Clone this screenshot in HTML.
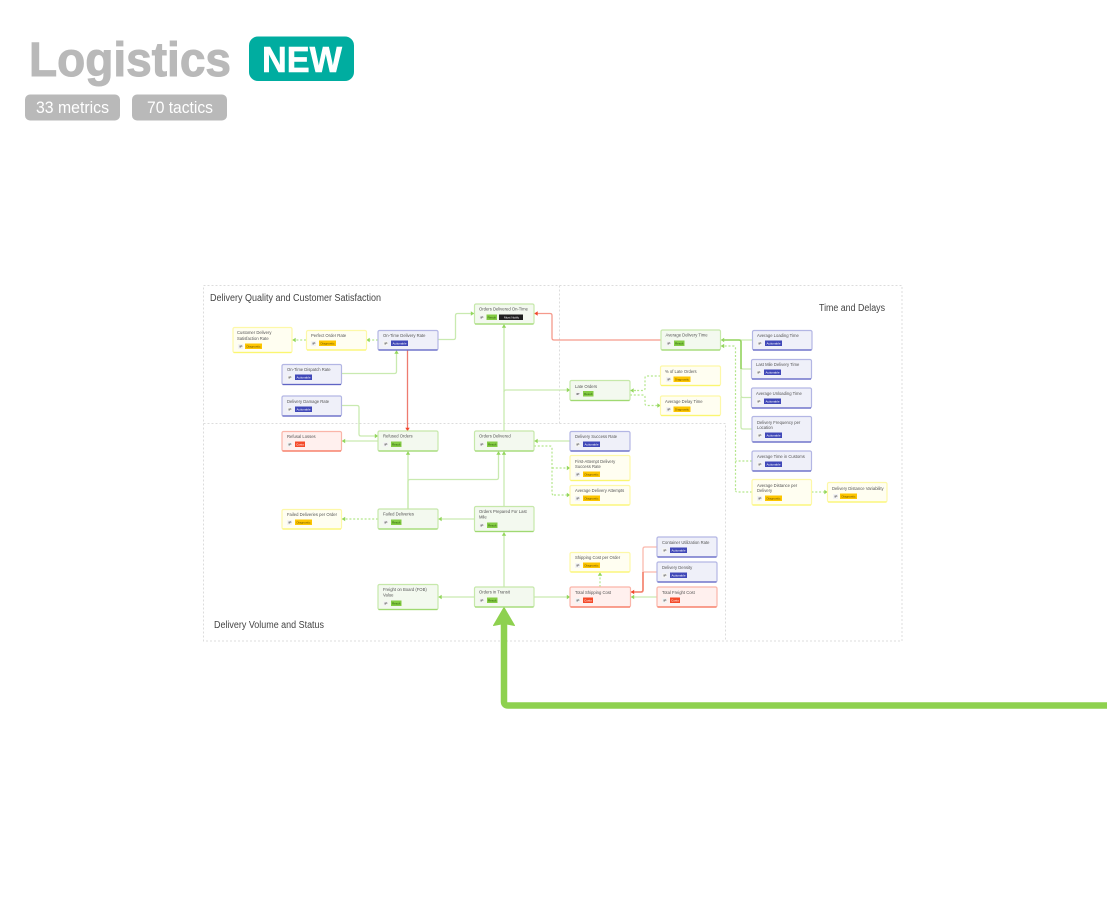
<!DOCTYPE html>
<html><head><meta charset="utf-8"><style>
html,body{margin:0;padding:0;background:#fff;width:1107px;height:902px;overflow:hidden}
svg{display:block;font-family:"Liberation Sans",sans-serif}
.z{fill:none;stroke:#dcdcdc;stroke-width:1;stroke-dasharray:2 2}
.gl{fill:none;stroke:#c9eab0;stroke-width:1.3;stroke-linejoin:round;marker-end:url(#ag)}
.gn{fill:none;stroke:#c9eab0;stroke-width:1.3;stroke-linejoin:round}
.gd{fill:none;stroke:#b4e68c;stroke-width:1.2;stroke-dasharray:2 1.8;marker-end:url(#ag)}
.gdn{fill:none;stroke:#b4e68c;stroke-width:1.2;stroke-dasharray:2 1.8}
.rl{fill:none;stroke:#f59a8c;stroke-width:1.3;stroke-linejoin:round;marker-end:url(#ar)}
.rn{fill:none;stroke:#fbb9ad;stroke-width:1.3;stroke-linejoin:round}
.n{stroke-width:1.2}
.G{fill:#f3f9ef;stroke:#c6e8aa}.B{fill:#eff0f9;stroke:#b3b6e4}.Y{fill:#fffef1;stroke:#fdf8a8}.R{fill:#fff0ee;stroke:#fab5a9}
.bG,.bB,.bY,.bR{stroke-width:1.3;fill:none}
.bG{stroke:#a0d972}.bB{stroke:#5f64c4}.bY{stroke:#fbf670}.bR{stroke:#f6745b}
.t{font-size:4.2px;fill:#555}
.i{fill:#f4f4f4}
.it{font-size:3px;fill:#444;font-weight:bold}
.fG{fill:#84cc44}.fB{fill:#4048b8}.fY{fill:#fdc500}.fR{fill:#f44a2a}.fK{fill:#1f1f1f}
.bt{font-size:3px;text-anchor:middle;fill:#fff}
.bd{font-size:3px;text-anchor:middle;fill:#665000}
.bg{font-size:3px;text-anchor:middle;fill:#2f5c0c}
.h{font-size:10px;fill:#444}
</style></head><body>
<svg width="1107" height="902" viewBox="0 0 1107 902" xmlns="http://www.w3.org/2000/svg">
<defs>
<marker id="ag" markerUnits="userSpaceOnUse" markerWidth="5" markerHeight="5" refX="3.4" refY="2.5" orient="auto"><path d="M0.2 0.3L3.6 2.5L0.2 4.7z" fill="#93d65c"/></marker>
<marker id="ar" markerUnits="userSpaceOnUse" markerWidth="5" markerHeight="5" refX="3.4" refY="2.5" orient="auto"><path d="M0.2 0.3L3.6 2.5L0.2 4.7z" fill="#f2462c"/></marker>
</defs>
<rect width="1107" height="902" fill="#fff"/>

<text x="29" y="76" font-size="48" font-weight="bold" fill="#b9b9b9" stroke="#b9b9b9" stroke-width="1" textLength="202" lengthAdjust="spacingAndGlyphs">Logistics</text>
<rect x="249" y="36.5" width="105" height="44.5" rx="9" fill="#00ada0"/>
<text x="262" y="72" font-size="36" font-weight="bold" fill="#fff" stroke="#fff" stroke-width="0.6" textLength="80" lengthAdjust="spacingAndGlyphs">NEW</text>
<rect x="25" y="94.5" width="95" height="26" rx="5" fill="#b9b9b9"/>
<rect x="132" y="94.5" width="95" height="26" rx="5" fill="#b9b9b9"/>
<text x="36" y="113" font-size="17" fill="#fff" textLength="73" lengthAdjust="spacingAndGlyphs">33 metrics</text>
<text x="147" y="113" font-size="17" fill="#fff" textLength="66" lengthAdjust="spacingAndGlyphs">70 tactics</text>

<rect class="z" x="203.5" y="285.5" width="698.5" height="355.5"/>
<path class="z" d="M559.5 285.5V423.5M203.5 423.5H725.5V641"/>
<text class="h" x="210" y="301" textLength="171" lengthAdjust="spacingAndGlyphs">Delivery Quality and Customer Satisfaction</text>
<text class="h" x="819" y="311" textLength="66" lengthAdjust="spacingAndGlyphs">Time and Delays</text>
<text class="h" x="214" y="628" textLength="110" lengthAdjust="spacingAndGlyphs">Delivery Volume and Status</text>

<!-- connectors -->
<path class="gl" d="M438 339.5H453.5Q455.5 339.5 455.5 337.5V315.5Q455.5 313.5 457.5 313.5H474"/>
<path class="gl" d="M341.5 373.5H394.5Q396.5 373.5 396.5 371.5V350.5"/>
<path class="gl" d="M341.5 405.5H357Q359 405.5 359 407.5V434Q359 436 361 436H378"/>
<path class="rl" style="stroke:#ee7b6f" d="M407.5 350.5V431"/>
<path class="gd" d="M378 340H366.5"/>
<path class="gd" d="M306 340H292.5"/>
<path class="gl" d="M378 441H342"/>
<path class="gl" d="M408 509V451.5"/>
<path class="gl" d="M408 509V481.5Q408 479.5 410 479.5H496.5Q498.5 479.5 498.5 477.5V451.5"/>
<path class="gl" d="M504 506V451.5"/>
<path class="gl" d="M504 431V324.5"/>
<path class="gl" d="M504 392Q504 390 506 390H570"/>
<path class="gl" d="M474.5 519H438.5"/>
<path class="gd" d="M378 519H342"/>
<path class="gl" d="M504 587V532.5"/>
<path class="gl" d="M474.5 597H438.5"/>
<path class="gl" d="M534 597H570"/>
<path class="gd" d="M600 587V572.5"/>
<path class="gl" d="M657 597H631"/>
<path class="rn" d="M657 547H645Q643 547 643 549V590Q643 592 641 592H635"/>
<path class="rn" d="M657 572H643"/>
<path d="M643 572V590Q643 592 641 592H631" fill="none" stroke="#f4806c" stroke-width="1.6" marker-end="url(#ar)"/>
<path class="gl" d="M570 441H534.5"/>
<path class="gdn" d="M534 446H550Q552 446 552 448V493Q552 495 554 495"/>
<path class="gd" d="M552 468H570"/>
<path class="gd" d="M554 495H570"/>
<path class="rl" d="M661 340H554Q552 340 552 338V315.5Q552 313.5 550 313.5H534.5"/>
<path class="gdn" d="M660.5 376H647Q645 376 645 378V388.5Q645 390.5 643 390.5H636"/>
<path class="gd" d="M636 390.5H630.5"/>
<path class="gd" d="M630 395H643Q645 395 645 397V403.5Q645 405.5 647 405.5H660.5"/>
<path class="gl" d="M752 340H721"/>
<path class="gn" d="M751.5 369H743Q741 369 741 367V340"/>
<path class="gn" d="M751.5 397.5H743Q741 397.5 741 395.5V369"/>
<path class="gn" d="M752 429H743Q741 429 741 427V397"/>
<path d="M741 369V342Q741 340 739 340H722" fill="none" stroke="#96d463" stroke-width="1.6"/>
<path class="gd" d="M735.5 490V348Q735.5 346 733.5 346H721"/>
<path class="gdn" d="M752 461H735.5"/>
<path class="gdn" d="M752 492H737.5Q735.5 492 735.5 490"/>
<path class="gd" d="M811.5 492H827.5"/>

<!-- thick arrow -->
<path d="M1107 705.5H508Q504 705.5 504 701.5V622" fill="none" stroke="#8ed14f" stroke-width="6.5"/>
<path d="M504 607.5L514.5 625.5L504 623.5L493.5 625.5z" fill="#8ed14f" stroke="#8ed14f" stroke-width="1" stroke-linejoin="round"/>

<!-- Green nodes -->
<g>
<rect class="n G" x="474.5" y="304" width="59.5" height="20" rx="1.5"/><path class="bG" d="M475 324H533.5"/><text class="t" x="479" y="310.5">Orders Delivered On-Time</text><rect class="i" x="479" y="315" width="5" height="5"/><text class="it" x="480.5" y="318.7">IP</text><rect class="fG" x="486.5" y="314.5" width="10.5" height="5.5"/><text class="bg" x="491.7" y="318.3">Result</text><rect class="fK" x="499" y="314.5" width="24" height="5.5"/><text class="bt" x="511.5" y="318.3">Must Notify</text>

<rect class="n G" x="378" y="431" width="60" height="20" rx="1.5"/><path class="bG" d="M378.5 451H437.5"/><text class="t" x="383" y="437.5">Refused Orders</text><rect class="i" x="383" y="442" width="5" height="5"/><text class="it" x="384.5" y="445.7">IP</text><rect class="fG" x="391" y="441.5" width="10.5" height="5.5"/><text class="bg" x="396.2" y="445.3">Result</text>

<rect class="n G" x="474.5" y="431" width="59.5" height="20" rx="1.5"/><path class="bG" d="M475 451H533.5"/><text class="t" x="479" y="437.5">Orders Delivered</text><rect class="i" x="479" y="442" width="5" height="5"/><text class="it" x="480.5" y="445.7">IP</text><rect class="fG" x="487" y="441.5" width="10.5" height="5.5"/><text class="bg" x="492.2" y="445.3">Result</text>

<rect class="n G" x="661" y="330" width="59.5" height="20" rx="1.5"/><path class="bG" d="M661.5 350H720"/><text class="t" x="665.5" y="336.5">Average Delivery Time</text><rect class="i" x="666" y="341" width="5" height="5"/><text class="it" x="667.5" y="344.7">IP</text><rect class="fG" x="674" y="340.5" width="10.5" height="5.5"/><text class="bg" x="679.2" y="344.3">Result</text>

<rect class="n G" x="570" y="380.5" width="60" height="20" rx="1.5"/><path class="bG" d="M570.5 400.5H629.5"/><text class="t" x="575" y="388">Late Orders</text><rect class="i" x="575" y="391.5" width="5" height="5"/><text class="it" x="576.5" y="395.2">IP</text><rect class="fG" x="583" y="391" width="10.5" height="5.5"/><text class="bg" x="588.2" y="394.8">Result</text>

<rect class="n G" x="378" y="509" width="60" height="20" rx="1.5"/><path class="bG" d="M378.5 529H437.5"/><text class="t" x="383" y="515.5">Failed Deliveries</text><rect class="i" x="383" y="520" width="5" height="5"/><text class="it" x="384.5" y="523.7">IP</text><rect class="fG" x="391" y="519.5" width="10.5" height="5.5"/><text class="bg" x="396.2" y="523.3">Result</text>

<rect class="n G" x="474.5" y="506.5" width="59.5" height="25" rx="1.5"/><path class="bG" d="M475 531.5H533.5"/><text class="t" x="479" y="513">Orders Prepared For Last</text><text class="t" x="479" y="518.7">Mile</text><rect class="i" x="479" y="523" width="5" height="5"/><text class="it" x="480.5" y="526.7">IP</text><rect class="fG" x="487" y="522.5" width="10.5" height="5.5"/><text class="bg" x="492.2" y="526.3">Result</text>

<rect class="n G" x="378" y="584.5" width="60" height="25" rx="1.5"/><path class="bG" d="M378.5 609.5H437.5"/><text class="t" x="383" y="591">Freight on Board (FOB)</text><text class="t" x="383" y="596.7">Value</text><rect class="i" x="383" y="601" width="5" height="5"/><text class="it" x="384.5" y="604.7">IP</text><rect class="fG" x="391" y="600.5" width="10.5" height="5.5"/><text class="bg" x="396.2" y="604.3">Result</text>

<rect class="n G" x="474.5" y="587" width="59.5" height="20" rx="1.5"/><path class="bG" d="M475 607H533.5"/><text class="t" x="479" y="593.5">Orders in Transit</text><rect class="i" x="479" y="598" width="5" height="5"/><text class="it" x="480.5" y="601.7">IP</text><rect class="fG" x="487" y="597.5" width="10.5" height="5.5"/><text class="bg" x="492.2" y="601.3">Result</text>
</g>

<!-- Blue nodes -->
<g>
<rect class="n B" x="378" y="330.5" width="60" height="19.5" rx="1.5"/><path class="bB" d="M378.5 350H437.5"/><text class="t" x="383" y="337">On-Time Delivery Rate</text><rect class="i" x="383" y="341" width="5" height="5"/><text class="it" x="384.5" y="344.7">IP</text><rect class="fB" x="391" y="340.5" width="17" height="5.5"/><text class="bt" x="399.5" y="344.3">Actionable</text>

<rect class="n B" x="282" y="364.5" width="59.5" height="20" rx="1.5"/><path class="bB" d="M282.5 384.5H341"/><text class="t" x="287" y="371">On-Time Dispatch Rate</text><rect class="i" x="287" y="375" width="5" height="5"/><text class="it" x="288.5" y="378.7">IP</text><rect class="fB" x="295" y="374.5" width="17" height="5.5"/><text class="bt" x="303.5" y="378.3">Actionable</text>

<rect class="n B" x="282" y="396" width="59.5" height="20" rx="1.5"/><path class="bB" d="M282.5 416H341"/><text class="t" x="287" y="403">Delivery Damage Rate</text><rect class="i" x="287" y="407" width="5" height="5"/><text class="it" x="288.5" y="410.7">IP</text><rect class="fB" x="295" y="406.5" width="17" height="5.5"/><text class="bt" x="303.5" y="410.3">Actionable</text>

<rect class="n B" x="752.5" y="330.5" width="59.5" height="19.5" rx="1.5"/><path class="bB" d="M753 350H811.5"/><text class="t" x="757" y="337">Average Loading Time</text><rect class="i" x="757" y="341" width="5" height="5"/><text class="it" x="758.5" y="344.7">IP</text><rect class="fB" x="765" y="340.5" width="17" height="5.5"/><text class="bt" x="773.5" y="344.3">Actionable</text>

<rect class="n B" x="751.5" y="359.5" width="60" height="19.5" rx="1.5"/><path class="bB" d="M752 379H811"/><text class="t" x="756" y="366">Last Mile Delivery Time</text><rect class="i" x="756" y="370" width="5" height="5"/><text class="it" x="757.5" y="373.7">IP</text><rect class="fB" x="764" y="369.5" width="17" height="5.5"/><text class="bt" x="772.5" y="373.3">Actionable</text>

<rect class="n B" x="751.5" y="388" width="60" height="20" rx="1.5"/><path class="bB" d="M752 408H811"/><text class="t" x="756" y="395">Average Unloading Time</text><rect class="i" x="756" y="399" width="5" height="5"/><text class="it" x="757.5" y="402.7">IP</text><rect class="fB" x="764" y="398.5" width="17" height="5.5"/><text class="bt" x="772.5" y="402.3">Actionable</text>

<rect class="n B" x="752" y="416.5" width="59.5" height="25.5" rx="1.5"/><path class="bB" d="M752.5 442H811"/><text class="t" x="757" y="424">Delivery Frequency per</text><text class="t" x="757" y="429">Location</text><rect class="i" x="757" y="433" width="5" height="5"/><text class="it" x="758.5" y="436.7">IP</text><rect class="fB" x="765" y="432.5" width="17" height="5.5"/><text class="bt" x="773.5" y="436.3">Actionable</text>

<rect class="n B" x="752" y="451" width="59.5" height="20" rx="1.5"/><path class="bB" d="M752.5 471H811"/><text class="t" x="757" y="458">Average Time in Customs</text><rect class="i" x="757" y="462" width="5" height="5"/><text class="it" x="758.5" y="465.7">IP</text><rect class="fB" x="765" y="461.5" width="17" height="5.5"/><text class="bt" x="773.5" y="465.3">Actionable</text>

<rect class="n B" x="570" y="431.5" width="60" height="19.5" rx="1.5"/><path class="bB" d="M570.5 451H629.5"/><text class="t" x="575" y="438">Delivery Success Rate</text><rect class="i" x="575" y="442" width="5" height="5"/><text class="it" x="576.5" y="445.7">IP</text><rect class="fB" x="583" y="441.5" width="17" height="5.5"/><text class="bt" x="591.5" y="445.3">Actionable</text>

<rect class="n B" x="657" y="537" width="60" height="20" rx="1.5"/><path class="bB" d="M657.5 557H716.5"/><text class="t" x="662" y="544">Container Utilization Rate</text><rect class="i" x="662" y="548" width="5" height="5"/><text class="it" x="663.5" y="551.7">IP</text><rect class="fB" x="670" y="547.5" width="17" height="5.5"/><text class="bt" x="678.5" y="551.3">Actionable</text>

<rect class="n B" x="657" y="562" width="60" height="20" rx="1.5"/><path class="bB" d="M657.5 582H716.5"/><text class="t" x="662" y="569">Delivery Density</text><rect class="i" x="662" y="573" width="5" height="5"/><text class="it" x="663.5" y="576.7">IP</text><rect class="fB" x="670" y="572.5" width="17" height="5.5"/><text class="bt" x="678.5" y="576.3">Actionable</text>
</g>

<!-- Yellow nodes -->
<g>
<rect class="n Y" x="233" y="327.5" width="59" height="25" rx="1.5"/><path class="bY" d="M233.5 352.5H291.5"/><text class="t" x="237" y="334">Customer Delivery</text><text class="t" x="237" y="340">Satisfaction Rate</text><rect class="i" x="238" y="344" width="5" height="5"/><text class="it" x="239.5" y="347.7">IP</text><rect class="fY" x="245" y="343.5" width="17" height="5.5"/><text class="bd" x="253.5" y="347.3">Diagnostic</text>

<rect class="n Y" x="306.5" y="330.5" width="60" height="19.5" rx="1.5"/><path class="bY" d="M307 350H366"/><text class="t" x="311" y="337">Perfect Order Rate</text><rect class="i" x="311" y="341" width="5" height="5"/><text class="it" x="312.5" y="344.7">IP</text><rect class="fY" x="319" y="340.5" width="17" height="5.5"/><text class="bd" x="327.5" y="344.3">Diagnostic</text>

<rect class="n Y" x="660.5" y="366" width="60" height="19.5" rx="1.5"/><path class="bY" d="M661 385.5H720"/><text class="t" x="665" y="373">% of Late Orders</text><rect class="i" x="666" y="377" width="5" height="5"/><text class="it" x="667.5" y="380.7">IP</text><rect class="fY" x="673.5" y="376.5" width="17" height="5.5"/><text class="bd" x="682" y="380.3">Diagnostic</text>

<rect class="n Y" x="660.5" y="396" width="60" height="19.5" rx="1.5"/><path class="bY" d="M661 415.5H720"/><text class="t" x="665" y="403">Average Delay Time</text><rect class="i" x="666" y="407" width="5" height="5"/><text class="it" x="667.5" y="410.7">IP</text><rect class="fY" x="673.5" y="406.5" width="17" height="5.5"/><text class="bd" x="682" y="410.3">Diagnostic</text>

<rect class="n Y" x="570" y="455.5" width="60" height="25" rx="1.5"/><path class="bY" d="M570.5 480.5H629.5"/><text class="t" x="575" y="463">First-Attempt Delivery</text><text class="t" x="575" y="468">Success Rate</text><rect class="i" x="575" y="472" width="5" height="5"/><text class="it" x="576.5" y="475.7">IP</text><rect class="fY" x="583" y="471.5" width="17" height="5.5"/><text class="bd" x="591.5" y="475.3">Diagnostic</text>

<rect class="n Y" x="570" y="485.5" width="60" height="19.5" rx="1.5"/><path class="bY" d="M570.5 505H629.5"/><text class="t" x="575" y="492">Average Delivery Attempts</text><rect class="i" x="575" y="496" width="5" height="5"/><text class="it" x="576.5" y="499.7">IP</text><rect class="fY" x="583" y="495.5" width="17" height="5.5"/><text class="bd" x="591.5" y="499.3">Diagnostic</text>

<rect class="n Y" x="752" y="479.5" width="59.5" height="25.5" rx="1.5"/><path class="bY" d="M752.5 505H811"/><text class="t" x="757" y="487">Average Distance per</text><text class="t" x="757" y="492">Delivery</text><rect class="i" x="757" y="496" width="5" height="5"/><text class="it" x="758.5" y="499.7">IP</text><rect class="fY" x="765" y="495.5" width="17" height="5.5"/><text class="bd" x="773.5" y="499.3">Diagnostic</text>

<rect class="n Y" x="827.5" y="482.5" width="59.5" height="19.5" rx="1.5"/><path class="bY" d="M828 502H886.5"/><text class="t" x="832" y="490">Delivery Distance Variability</text><rect class="i" x="833" y="494" width="5" height="5"/><text class="it" x="834.5" y="497.7">IP</text><rect class="fY" x="840" y="493.5" width="17" height="5.5"/><text class="bd" x="848.5" y="497.3">Diagnostic</text>

<rect class="n Y" x="282" y="509.5" width="59.5" height="19.5" rx="1.5"/><path class="bY" d="M282.5 529H341"/><text class="t" x="287" y="516">Failed Deliveries per Order</text><rect class="i" x="287" y="520" width="5" height="5"/><text class="it" x="288.5" y="523.7">IP</text><rect class="fY" x="295" y="519.5" width="17" height="5.5"/><text class="bd" x="303.5" y="523.3">Diagnostic</text>

<rect class="n Y" x="570" y="552.5" width="60" height="19.5" rx="1.5"/><path class="bY" d="M570.5 572H629.5"/><text class="t" x="575" y="559">Shipping Cost per Order</text><rect class="i" x="575" y="563" width="5" height="5"/><text class="it" x="576.5" y="566.7">IP</text><rect class="fY" x="583" y="562.5" width="17" height="5.5"/><text class="bd" x="591.5" y="566.3">Diagnostic</text>
</g>

<!-- Red nodes -->
<g>
<rect class="n R" x="282" y="431.5" width="59.5" height="19.5" rx="1.5"/><path class="bR" d="M282.5 451H341"/><text class="t" x="287" y="438">Refusal Losses</text><rect class="i" x="287" y="442" width="5" height="5"/><text class="it" x="288.5" y="445.7">IP</text><rect class="fR" x="295" y="441.5" width="10" height="5.5"/><text class="bt" x="300" y="445.3">Costs</text>

<rect class="n R" x="570" y="587" width="60.5" height="20" rx="1.5"/><path class="bR" d="M570.5 607H630"/><text class="t" x="575" y="594">Total Shipping Cost</text><rect class="i" x="575" y="598" width="5" height="5"/><text class="it" x="576.5" y="601.7">IP</text><rect class="fR" x="583" y="597.5" width="10" height="5.5"/><text class="bt" x="588" y="601.3">Costs</text>

<rect class="n R" x="657" y="587" width="60" height="20" rx="1.5"/><path class="bR" d="M657.5 607H716.5"/><text class="t" x="662" y="594">Total Freight Cost</text><rect class="i" x="662" y="598" width="5" height="5"/><text class="it" x="663.5" y="601.7">IP</text><rect class="fR" x="670" y="597.5" width="10" height="5.5"/><text class="bt" x="675" y="601.3">Costs</text>
</g>
</svg>
</body></html>
